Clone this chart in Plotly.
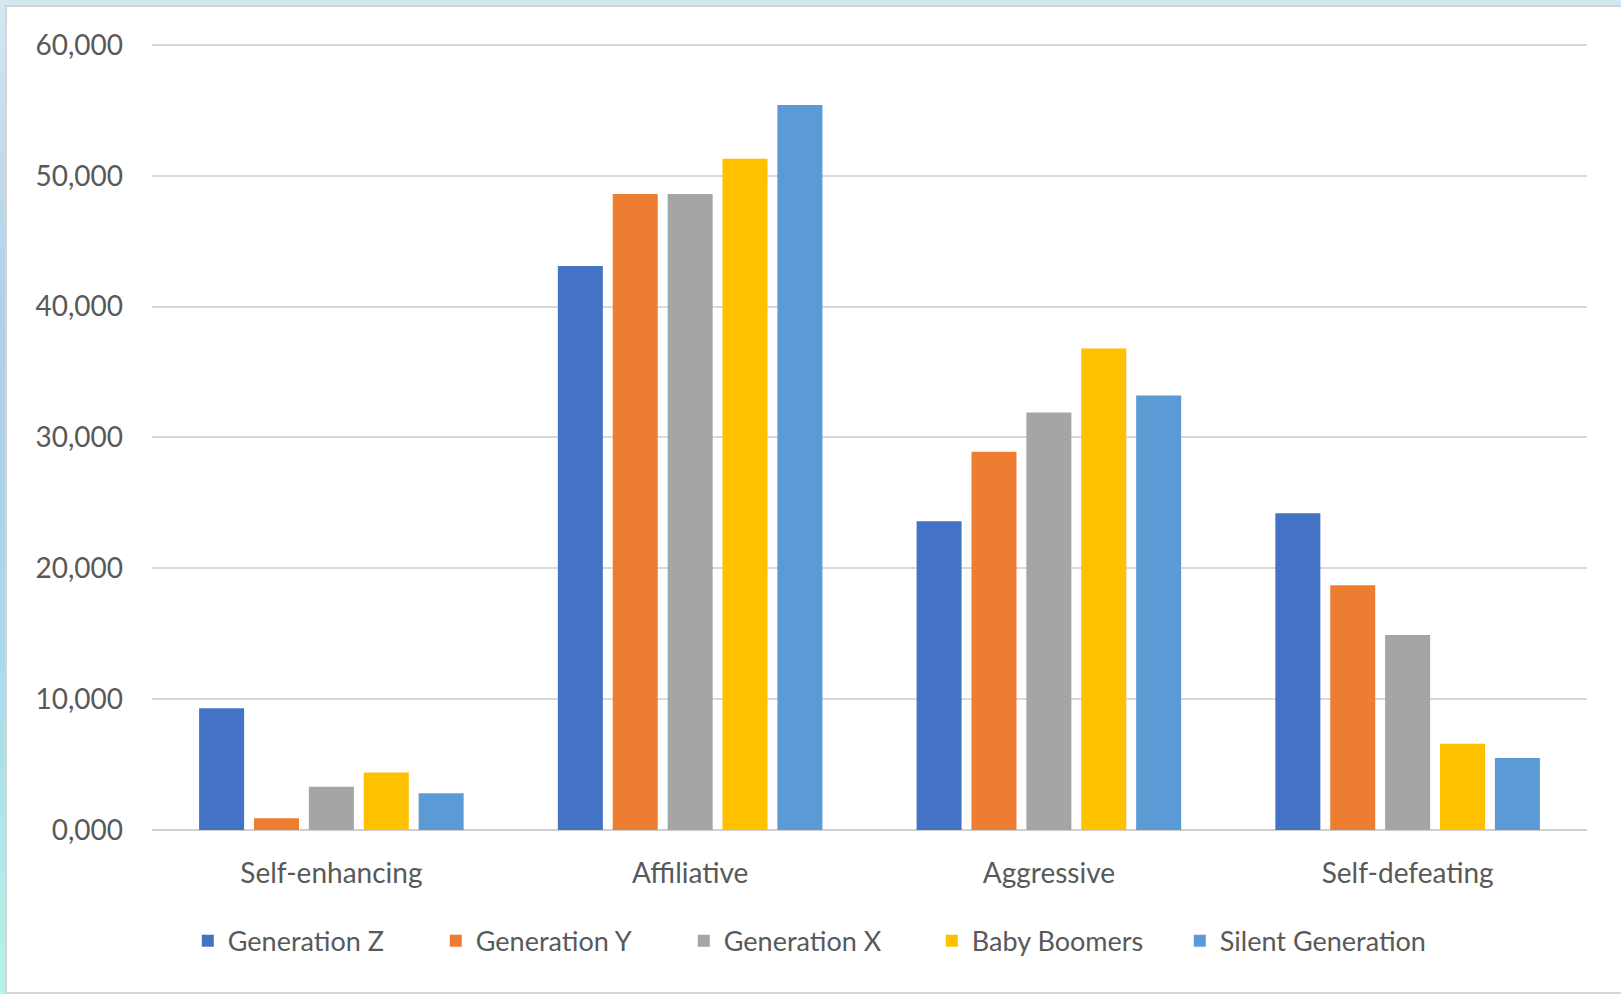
import plotly.graph_objects as go

# Humor styles by generation
categories = ["Self-enhancing", "Affiliative", "Aggressive", "Self-defeating"]
series_names = ["Generation Z", "Generation Y", "Generation X", "Baby Boomers", "Silent Generation"]
gen_z = [9.3, 43.1, 23.6, 24.2]
gen_y = [0.9, 48.6, 28.9, 18.7]
gen_x = [3.3, 48.6, 31.9, 14.9]
boomers = [4.4, 51.3, 36.8, 6.6]
silent = [2.8, 55.4, 33.2, 5.5]
tick_vals = [0, 10, 20, 30, 40, 50, 60]
tick_text = ["0,000", "10,000", "20,000", "30,000", "40,000", "50,000", "60,000"]

colors = ["#4472C4", "#ED7D31", "#A5A5A5", "#FFC000", "#5B9BD5"]
values = [gen_z, gen_y, gen_x, boomers, silent]

W, H = 1621, 994
ml, mr, mt, mb = 152, 34, 41, 164
pw, ph = W - ml - mr, H - mt - mb
font_family = "Lato, 'Open Sans', sans-serif"
text_color = "#595959"


def px_x(x):
    return (x - ml) / pw


def px_y(y):
    return (H - mb - y) / ph


fig = go.Figure()
for name, vals, col in zip(series_names, values, colors):
    fig.add_trace(go.Bar(x=categories, y=vals, name=name, marker_color=col,
                         marker_line_width=0))

shapes = []
# top band of the frame
shapes.append(dict(type="rect", xref="paper", yref="paper", layer="below",
                   x0=px_x(-2), x1=px_x(W + 2), y0=px_y(5), y1=px_y(-2),
                   fillcolor="#d3e8f0", line=dict(width=0)))


# left band of the frame, shaded from blue to cyan in short steps
def mix(c1, c2, t):
    a = [int(c1[i:i + 2], 16) for i in (1, 3, 5)]
    b = [int(c2[i:i + 2], 16) for i in (1, 3, 5)]
    return "#" + "".join(f"{round(a[k] + (b[k] - a[k]) * t):02x}" for k in range(3))


stops = [(0, "#d3e8f0"), (330, "#b0cee6"), (650, "#a9d9ea"), (994, "#b6f3e8")]
steps = 40
for i in range(steps):
    y0 = H * i / steps
    y1 = H * (i + 1) / steps
    ym = (y0 + y1) / 2
    for (sa, ca), (sb, cb) in zip(stops[:-1], stops[1:]):
        if sa <= ym <= sb:
            col = mix(ca, cb, (ym - sa) / (sb - sa))
            break
    shapes.append(dict(type="rect", xref="paper", yref="paper", layer="below",
                       x0=px_x(-2), x1=px_x(6), y0=px_y(y1 + 0.5), y1=px_y(y0),
                       fillcolor=col, line=dict(width=0)))

# white panel with a thin grey edge
shapes.append(dict(type="rect", xref="paper", yref="paper", layer="below",
                   x0=px_x(6), x1=px_x(W + 3), y0=px_y(993), y1=px_y(6),
                   fillcolor="white", line=dict(color="#d4d4d4", width=2)))

fig.update_layout(
    width=W, height=H,
    margin=dict(l=ml, r=mr, t=mt, b=mb),
    paper_bgcolor="white",
    plot_bgcolor="white",
    shapes=shapes,
    barmode="group",
    bargap=0.235,
    bargroupgap=0.18,
    font=dict(family=font_family, size=28, color=text_color),
    xaxis=dict(showgrid=False, showline=False, ticks="",
               ticklabelstandoff=24, tickfont=dict(size=28, color=text_color)),
    yaxis=dict(range=[0, 60.3], tickvals=tick_vals, ticktext=tick_text,
               showgrid=True, gridcolor="#d9d9d9", gridwidth=2,
               zeroline=True, zerolinecolor="#d0d0d0", zerolinewidth=2,
               showline=False, ticks="", ticklabelstandoff=28,
               tickfont=dict(size=28, color=text_color)),
    legend=dict(orientation="h", x=0.457, xanchor="center", y=-0.141, yanchor="middle",
                font=dict(size=27, color=text_color), bgcolor="rgba(0,0,0,0)",
                itemwidth=30, entrywidth=203, traceorder="normal"),
    showlegend=True,
)

fig.write_html("out.html")
